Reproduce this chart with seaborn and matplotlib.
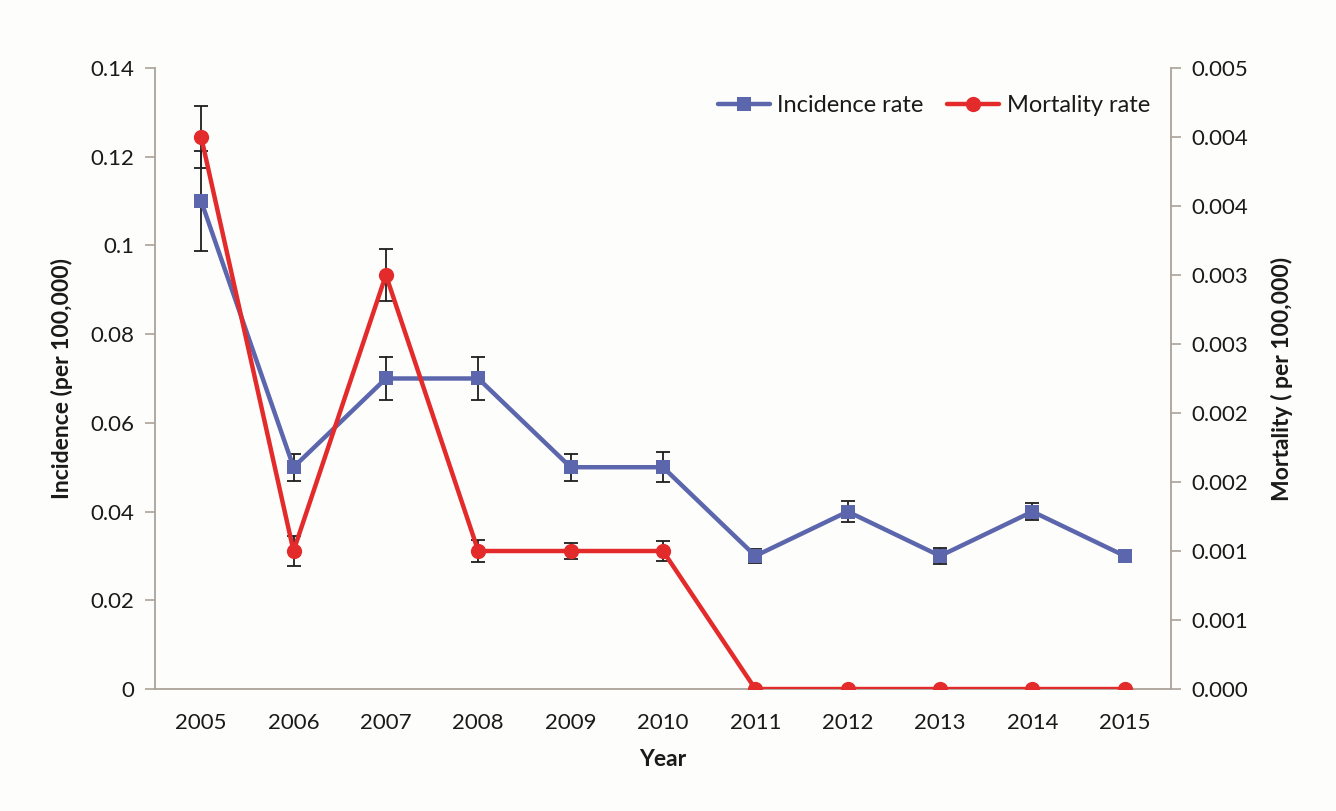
from decimal import Decimal, ROUND_HALF_UP

import matplotlib
matplotlib.use("Agg")
import matplotlib.pyplot as plt
from matplotlib.ticker import FixedLocator, FuncFormatter
from matplotlib.lines import Line2D
import numpy as np
import pandas as pd
import seaborn as sns

# ---- data -------------------------------------------------------------
years = [2005, 2006, 2007, 2008, 2009, 2010, 2011, 2012, 2013, 2014, 2015]
incidence = [0.11, 0.05, 0.07, 0.07, 0.05, 0.05, 0.03, 0.04, 0.03, 0.04, 0.03]
incidence_err = [0.0113, 0.003, 0.0049, 0.0049, 0.003, 0.0034, 0.0016, 0.0024, 0.0019, 0.002, 0.0]
mortality = [0.004, 0.001, 0.003, 0.001, 0.001, 0.001, 0.0, 0.0, 0.0, 0.0, 0.0]
mortality_err = [0.000225, 0.00011, 0.000185, 0.00008, 0.00006, 0.00007, 0.0, 0.0, 0.0, 0.0, 0.0]

df = pd.DataFrame({
    "Year": years,
    "Incidence": incidence,
    "IncErr": incidence_err,
    "Mortality": mortality,
    "MortErr": mortality_err,
})

BLUE = "#5b66ad"
RED = "#e32b2b"
AXIS = "#aaa29a"
BG = "#fdfdfb"
TXT = "#1a1a1a"
LW = 3.2

sns.set_theme(style="white")
plt.rcParams["font.family"] = ["Lato", "DejaVu Sans"]

fig = plt.figure(figsize=(13.36, 8.11), dpi=100, facecolor=BG)
ax = fig.add_axes([0.116, 0.1504, 0.7605, 0.7658])
ax.set_facecolor(BG)

# incidence (left axis)
ax.errorbar(df["Year"], df["Incidence"], yerr=df["IncErr"], fmt="none",
            ecolor="#1e1e1e", elinewidth=1.3, capsize=5, capthick=1.3, zorder=1)
sns.lineplot(data=df, x="Year", y="Incidence", ax=ax, color=BLUE, lw=LW,
             marker="s", markersize=10, markeredgewidth=0, zorder=2,
             legend=False)

ax.set_xlim(2004.5, 2015.5)
ax.set_ylim(0, 0.14)
ax.yaxis.set_major_locator(FixedLocator(np.arange(0, 0.1401, 0.02)))
ax.yaxis.set_major_formatter(FuncFormatter(lambda v, p: f"{v:g}"))

ax.xaxis.set_major_locator(FixedLocator(years))
ax.xaxis.set_minor_locator(FixedLocator(np.arange(2004.5, 2015.6, 1.0)))
ax.set_xticklabels([str(y) for y in years])
ax.tick_params(axis="x", which="major", length=0, pad=17, labelsize=16, labelcolor=TXT)
ax.tick_params(axis="x", which="minor", length=7, width=1.2, color=AXIS, direction="out")
ax.tick_params(axis="y", length=7, width=1.2, color=AXIS, direction="out",
               labelsize=16, labelcolor=TXT, pad=8, left=True)

for side in ("top", "right"):
    ax.spines[side].set_visible(False)
for side in ("left", "bottom"):
    ax.spines[side].set_color(AXIS)
    ax.spines[side].set_linewidth(1.3)

ax.set_xlabel("Year", fontsize=16.5, fontweight="bold", color=TXT, labelpad=12)
ax.set_ylabel("Incidence (per 100,000)", fontsize=16.5, fontweight="bold",
              color=TXT, labelpad=12)

# mortality (right axis)
ax2 = ax.twinx()
ax2.errorbar(df["Year"], df["Mortality"], yerr=df["MortErr"], fmt="none",
             ecolor="#1e1e1e", elinewidth=1.3, capsize=5, capthick=1.3, zorder=1)
sns.lineplot(data=df, x="Year", y="Mortality", ax=ax2, color=RED, lw=LW,
             marker="o", markersize=11, markeredgewidth=0, zorder=2,
             legend=False)
ax2.set_ylim(0, 0.0045)


def half_up(v, p):
    txt = f"{float(v):.6f}"
    return str(Decimal(txt).quantize(Decimal("0.001"), rounding=ROUND_HALF_UP))


ax2.yaxis.set_major_locator(FixedLocator([i * 0.0005 for i in range(10)]))
ax2.yaxis.set_major_formatter(FuncFormatter(half_up))
ax2.tick_params(axis="y", length=7, width=1.2, color=AXIS, direction="out",
                labelsize=16, labelcolor=TXT, pad=8, right=True)
for side in ("top", "left", "bottom"):
    ax2.spines[side].set_visible(False)
ax2.spines["right"].set_color(AXIS)
ax2.spines["right"].set_linewidth(1.3)
ax2.set_ylabel("Mortality ( per 100,000)", fontsize=16.5, fontweight="bold",
               color=TXT, labelpad=16)
ax2.set_xlim(2004.5, 2015.5)

handles = [
    Line2D([], [], color=BLUE, lw=LW, marker="s", markersize=10, markeredgewidth=0),
    Line2D([], [], color=RED, lw=LW, marker="o", markersize=11, markeredgewidth=0),
]
leg = ax2.legend(handles, ["Incidence rate", "Mortality rate"], loc="upper right",
                 bbox_to_anchor=(1.0, 0.99), ncol=2, frameon=False, fontsize=17,
                 handlelength=2.2, handletextpad=0.3, columnspacing=1.0)
for t in leg.get_texts():
    t.set_color(TXT)

fig.savefig("out.png", dpi=100, facecolor=BG)
